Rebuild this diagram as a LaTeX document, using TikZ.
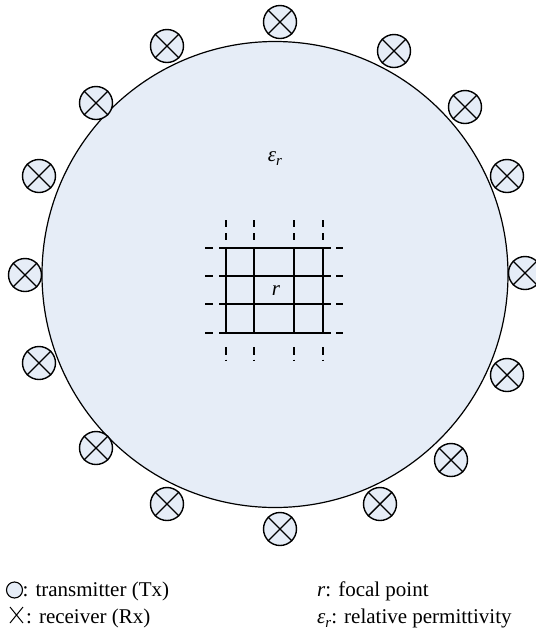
\documentclass[tikz,border=0pt]{standalone}
\usepackage{fontspec}
\setmainfont{Liberation Serif}
\definecolor{fillblue}{RGB}{230,237,247}
\newcommand{\epsr}{\textit{ε}\raisebox{-4pt}{\fontsize{15}{15}\selectfont\textit{r}}}
\begin{document}
\begin{tikzpicture}[x=1pt,y=-1pt,
  every node/.style={font=\fontsize{21}{25}\selectfont},
  body/.style={circle, draw, line width=1.2pt, fill=fillblue, minimum size=466pt, inner sep=0pt},
  ant/.style={circle, draw, line width=1.4pt, fill=fillblue, minimum size=33pt, inner sep=0pt},
  cross/.style={line width=1.4pt},
  gridline/.style={line width=1.5pt},
  dashpart/.style={line width=1.3pt},
  txt/.style={anchor=base west, inner sep=0pt}]
\useasboundingbox (0,0) rectangle (536,630);
\node[body] (body) at (275,274.5) {};
% antennas
\foreach \n/\x/\y in {1/280/22, 2/167/46, 3/394/51, 4/96/103, 5/465/107,
  6/39/176, 7/507/176, 8/25/275, 9/525/273, 10/39/363, 11/507/375,
  12/96/448, 13/451/460, 14/167/504, 15/380/504, 16/280/529}{
  \node[ant] (s\n) at (\x,\y) {};
  \draw[cross] (s\n.45) -- (s\n.225) (s\n.135) -- (s\n.315);
}
% grid
\foreach \yy in {248,276,304,333}{
  \draw[gridline] (219,\yy) -- (331,\yy);
  \draw[dashpart] (205,\yy) -- (213,\yy) (336,\yy) -- (343,\yy);
}
\foreach \xx in {226,254,294,323}{
  \draw[gridline] (\xx,247.5) -- (\xx,334);
  \draw[dashpart] (\xx,220) -- (\xx,227) (\xx,233) -- (\xx,239.5);
  \draw[dashpart] (\xx,347) -- (\xx,355) (\xx,359.5) -- (\xx,361);
}
\node (eps) at (275,159) {\epsr};
\node (focal) at (276,291) {\textit{r}};
% legend
\node[circle, draw, line width=1.1pt, fill=fillblue, minimum size=16pt, inner sep=0pt] (legtx) at (14.5,590) {};
\node[txt] (ltx) at (22.5,596.5) {: transmitter (Tx)};
\coordinate (xa) at (10,607);
\coordinate (xb) at (23,623);
\coordinate (xc) at (10,623);
\coordinate (xd) at (23,607);
\draw[line width=1pt] (xa) -- (xb) (xc) -- (xd);
\node[txt] (lrx) at (26,623) {: receiver (Rx)};
\node[txt] (lr) at (317,596.5) {\textit{r}: focal point};
\node[txt] (le) at (317,623) {\epsr: relative permittivity};
\end{tikzpicture}
\end{document}
